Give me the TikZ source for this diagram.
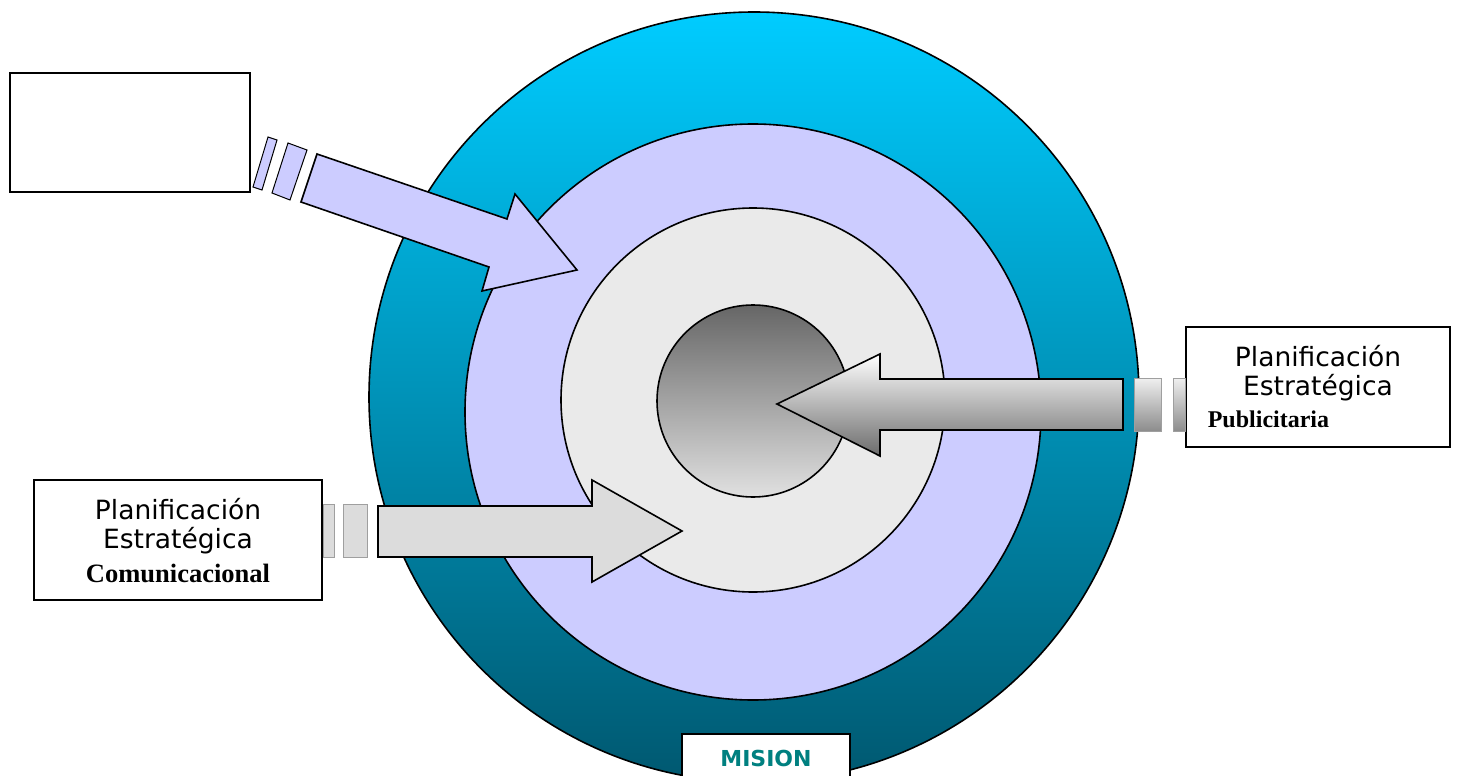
\documentclass[tikz,border=0pt]{standalone}
\usepackage{fontspec}
\usetikzlibrary{positioning}
\newfontfamily\labelfont{DejaVu Sans}
\newfontfamily\serifbold{Liberation Serif}
\definecolor{ringcyan}{RGB}{0,204,255}
\definecolor{ringmid}{RGB}{0,168,208}
\definecolor{ringteal}{RGB}{0,88,112}
\definecolor{lavender}{RGB}{204,204,255}
\definecolor{coregray}{RGB}{234,234,234}
\definecolor{arrowgray}{RGB}{220,220,220}
\definecolor{misionteal}{RGB}{0,128,128}

\begin{document}
\begin{tikzpicture}[x=1pt, y=-1pt, line width=1.6pt,
    box/.style={draw, fill=white, line width=1.8pt, inner sep=0pt},
    plan/.style={font=\labelfont\fontsize{26.5}{30}\selectfont},
    kind/.style={font=\serifbold\bfseries\fontsize{26.5}{30}\selectfont},
    stub/.style={draw=gray!75, line width=0.8pt}]
  \useasboundingbox (0,0) rectangle (1457,776);
  \clip (0,0) rectangle (1457,776);

  \coordinate (outer) at (754,397);
  \coordinate (middle) at (753,412);
  \coordinate (inner) at (753,400);
  \coordinate (core) at (753,401);
  \draw[top color=ringcyan, middle color=ringmid, bottom color=ringteal] (outer) circle (385pt);
  \draw[fill=lavender] (middle) circle (288pt);
  \draw[fill=coregray] (inner) circle (192pt);
  \draw[top color=black!60, bottom color=black!12] (core) circle (96pt);

  \node[box, minimum width=240pt, minimum height=119pt] (empty) at (130,132.5) {};
  \node[box, minimum width=288pt, minimum height=120pt] (comm) at (178,540) {};
  \node[box, minimum width=264pt, minimum height=120pt] (pub) at (1318,387) {};

  \draw[fill=lavender, line width=1pt] (268,137) -- (277,140) -- (262,190) -- (253,187) -- cycle;
  \draw[fill=lavender, line width=1pt] (288,143) -- (307,150) -- (290,200) -- (272,193) -- cycle;
  \draw[fill=lavender] (317,154) -- (507,219) -- (515,194) -- (577,270) -- (482,291) -- (489,267) -- (301,202) -- cycle;

  \draw[stub, top color=black!6, bottom color=black!45] (1134,378) rectangle (1161,431);
  \draw[stub, top color=black!6, bottom color=black!45] (1173,378) rectangle (pub.west |- 0,431);
  \draw[top color=white, bottom color=black!58] (1123,379) -- (880,379) -- (880,354) -- (777,404) -- (880,456) -- (880,430) -- (1123,430) -- cycle;

  \draw[stub, fill=arrowgray] (comm.east |- 0,504) rectangle (334,557);
  \draw[stub, fill=arrowgray] (343,504) rectangle (367,557);
  \draw[fill=arrowgray] (378,506) -- (592,506) -- (592,480) -- (682,531) -- (592,582) -- (592,557) -- (378,557) -- cycle;

  \node[plan] (comm1) at (178,509) {Planificación};
  \node[plan] (comm2) at (178,541) {Estratégica};
  \node[kind] (comm3) at (178,573) {Comunicacional};
  \node[plan] (pub1) at (1318,356) {Planificación};
  \node[plan] (pub2) at (1318,388) {Estratégica};
  \node[kind, font=\serifbold\bfseries\fontsize{24}{28}\selectfont, anchor=west, inner sep=0pt] (pub3) at (1207,419) {Publicitaria};

  \node[box, minimum width=168pt, minimum height=56pt, anchor=north] (mision) at (766,733) {};
  \node[font=\labelfont\bfseries\fontsize{22}{26}\selectfont, text=misionteal] (misiontext) at (766,758) {MISION};
\end{tikzpicture}
\end{document}
